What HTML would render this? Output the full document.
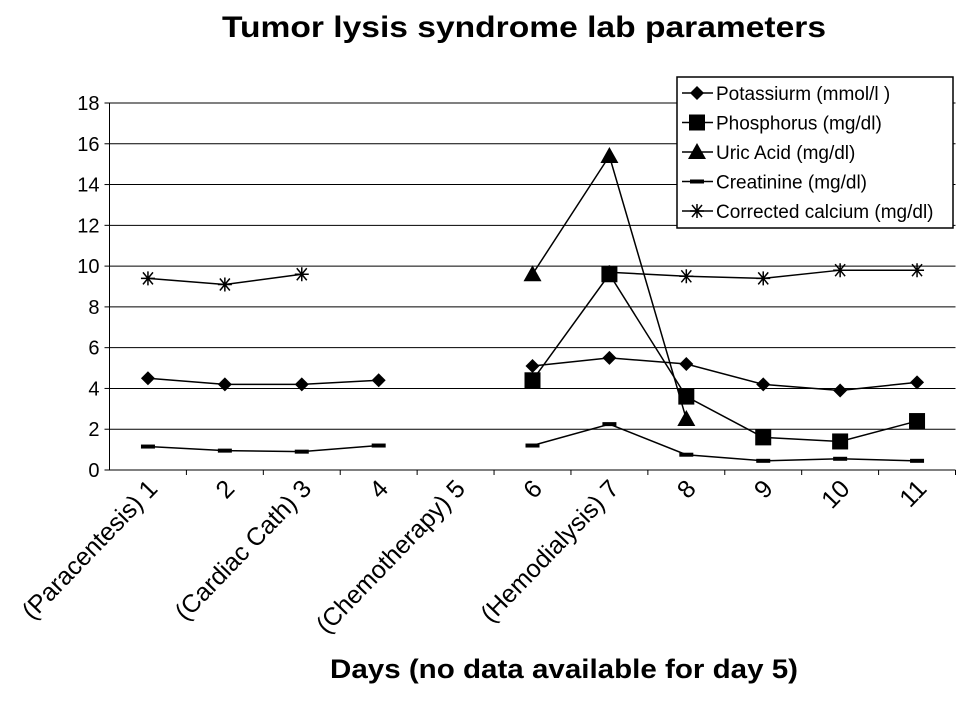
<!DOCTYPE html>
<html><head><meta charset="utf-8"><style>
body{margin:0;background:#fff;width:969px;height:700px;overflow:hidden;font-family:"Liberation Sans",Arial,sans-serif}
</style></head><body>
<svg id="chart" width="969" height="700" xmlns="http://www.w3.org/2000/svg" font-family="Liberation Sans, Arial, sans-serif">
<text x="222" y="37" font-size="30" font-weight="bold" textLength="604" lengthAdjust="spacingAndGlyphs">Tumor  lysis syndrome lab  parameters</text>
<text x="330" y="678" font-size="27" font-weight="bold" textLength="468" lengthAdjust="spacingAndGlyphs">Days (no data available for day 5)</text>
<g id="plot"></g>
</svg>
<script>
const categories=["(Paracentesis) 1","2","(Cardiac Cath) 3","4","(Chemotherapy) 5","6","(Hemodialysis) 7","8","9","10","11"];
const yTicks=[0,2,4,6,8,10,12,14,16,18];
const potassium=[4.5,4.2,4.2,4.4,null,5.1,5.5,5.2,4.2,3.9,4.3];
const phosphorus=[null,null,null,null,null,4.4,9.6,3.6,1.6,1.4,2.4];
const uricAcid=[null,null,null,null,null,9.6,15.4,2.5,null,null,null];
const creatinine=[1.15,0.95,0.9,1.2,null,1.2,2.25,0.75,0.45,0.55,0.45];
const calcium=[9.4,9.1,9.6,null,null,null,9.7,9.5,9.4,9.8,9.8];
const seriesNames=["Potassiurm (mmol/l )","Phosphorus (mg/dl)","Uric Acid (mg/dl)","Creatinine (mg/dl)","Corrected  calcium (mg/dl)"];
const NS="http://www.w3.org/2000/svg";
const g=document.getElementById('plot');
const L=109.5,R=955.5,T=103,B=470,yMax=18;
const x=i=>L+(R-L)/categories.length*(i+0.5);
const y=v=>B-(B-T)*v/yMax;
function mk(tag,a,p){const e=document.createElementNS(NS,tag);for(const k in a)e.setAttribute(k,a[k]);(p||g).appendChild(e);return e;}
yTicks.forEach(t=>{
 if(t>0){const gl=mk('line',{x1:L,x2:R,y1:y(t),y2:y(t),stroke:'#000','stroke-width':1});
 
 }
 mk('line',{x1:L-5,x2:L,y1:y(t),y2:y(t),stroke:'#000'});
 const tx=mk('text',{x:L-10,y:y(t)+7,'text-anchor':'end','font-size':20});tx.textContent=t;
 
 
});
mk('line',{x1:L,x2:L,y1:T,y2:B,stroke:'#000'});
mk('line',{x1:L,x2:R,y1:B,y2:B,stroke:'#000'});
categories.forEach((c,i)=>{
 const bx=L+(R-L)/categories.length*(i+1);
 mk('line',{x1:bx,x2:bx,y1:B,y2:B+5,stroke:'#000'});
 const tx=mk('text',{x:0,y:0,'text-anchor':'end','font-size':25,transform:`translate(${x(i)+11},${B+20}) rotate(-46)`});
 tx.textContent=c;
 
 
});
function marker(type,cx,cy,p){
 if(type==='diamond')mk('polygon',{points:`${cx},${cy-7} ${cx+7},${cy} ${cx},${cy+7} ${cx-7},${cy}`,fill:'#000'},p);
 else if(type==='square')mk('rect',{x:cx-8,y:cy-8,width:16,height:16,fill:'#000'},p);
 else if(type==='triangle')mk('polygon',{points:`${cx},${cy-9} ${cx+9},${cy+7} ${cx-9},${cy+7}`,fill:'#000'},p);
 else if(type==='dash')mk('rect',{x:cx-7,y:cy-2,width:14,height:4,fill:'#000'},p);
 else if(type==='star'){mk('path',{d:`M${cx-7} ${cy}H${cx+7}M${cx-5} ${cy-6}L${cx+5} ${cy+6}M${cx-5} ${cy+6}L${cx+5} ${cy-6}M${cx} ${cy-7}V${cy+7}`,stroke:'#000','stroke-width':1.5,fill:'none'},p);}
}
const all=[[potassium,'diamond','potassium'],[phosphorus,'square','phosphorus'],[uricAcid,'triangle','uric-acid'],[creatinine,'dash','creatinine'],[calcium,'star','calcium']];
all.slice().reverse().forEach(([vals,m,nm])=>{
 const sg=mk('g',{});
 
 
 let d='',prev=false;
 vals.forEach((v,i)=>{if(v==null){prev=false;return;}d+=(prev?'L':'M')+x(i)+' '+y(v);prev=true;});
 mk('path',{d:d,stroke:'#000','stroke-width':1.5,fill:'none'},sg);
 vals.forEach((v,i)=>{if(v!=null)marker(m,x(i),y(v),sg);});
});
const lg=mk('g',{});


mk('rect',{x:677,y:77,width:276,height:151,fill:'#fff',stroke:'#000','stroke-width':1.5},lg);
all.forEach(([v,m,nm],k)=>{
 const ly=93+k*29.5;
 const e=mk('g',{},lg);
 
 
 mk('line',{x1:682,x2:713,y1:ly,y2:ly,stroke:'#000','stroke-width':1.5},e);
 marker(m,697,ly,e);
 const t=mk('text',{x:716,y:ly+7,'font-size':19},e);t.textContent=seriesNames[k];
});
</script>
</body></html>
